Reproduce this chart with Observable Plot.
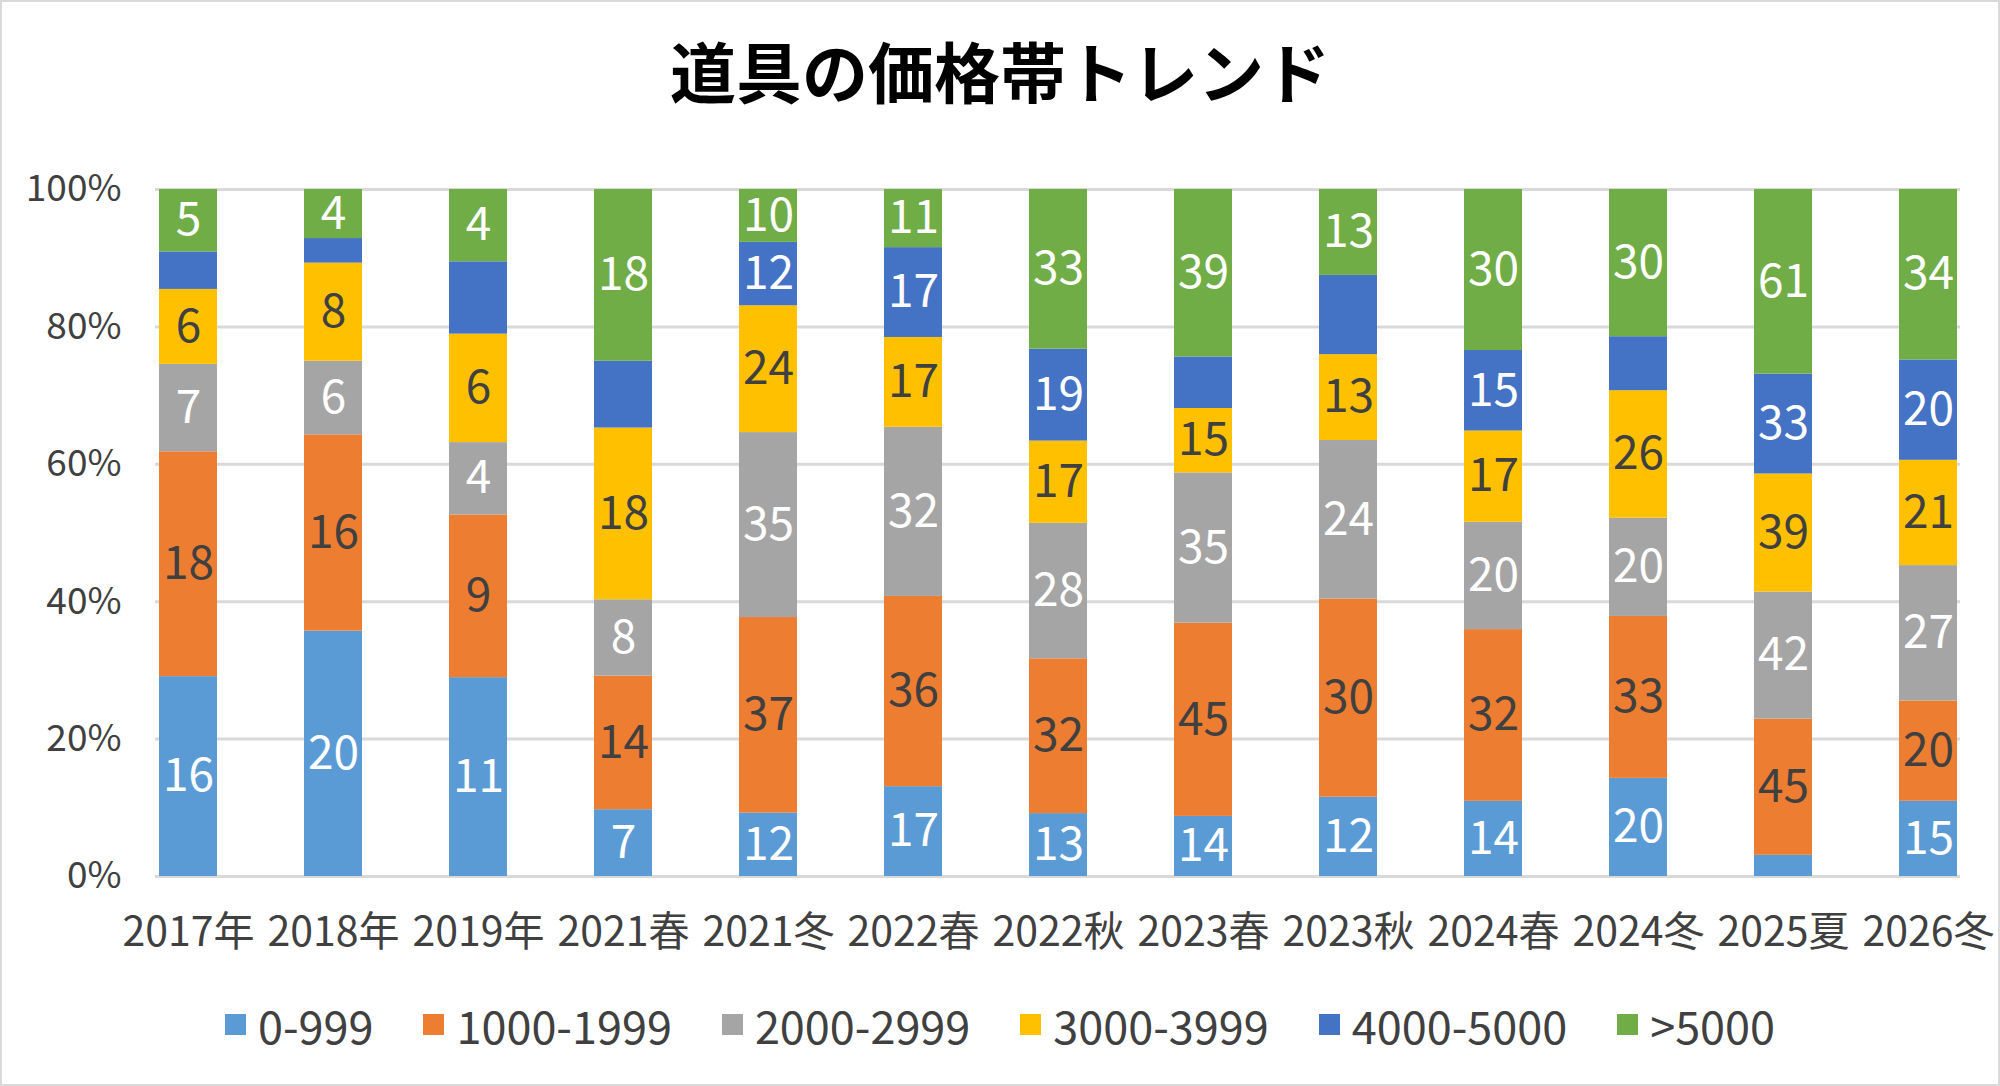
<!DOCTYPE html>
<html><head><meta charset="utf-8">
<script src="https://cdn.jsdelivr.net/npm/d3@7"></script>
<script src="https://cdn.jsdelivr.net/npm/@observablehq/plot@0.6"></script>
<style>
body{margin:0;background:#fff;font-family:"Noto Sans CJK JP","Noto Sans",sans-serif;}
#wrap{width:1996px;height:1082px;border:2px solid #d9d9d9;position:relative;overflow:hidden;}
#title{position:absolute;top:28px;left:0;width:100%;text-align:center;font-size:66px;font-weight:bold;color:#000;line-height:1.2;}
#chart{position:absolute;top:128px;left:0;}
#legend{position:absolute;top:990px;left:0;width:100%;display:flex;justify-content:center;gap:50px;font-size:45px;color:#404040;}
#legend span.sw{display:inline-block;width:21px;height:21px;margin-right:12px;}
#legend div{display:flex;align-items:center;}
</style></head><body>
<div id="wrap"><div id="title">道具の価格帯トレンド</div><div id="chart"></div><div id="legend"></div></div>
<script>
const categories = ["2017年","2018年","2019年","2021春","2021冬","2022春","2022秋","2023春","2023秋","2024春","2024冬","2025夏","2026冬"];
const seriesNames = ["0-999","1000-1999","2000-2999","3000-3999","4000-5000",">5000"];
const colors = ["#5B9BD5","#ED7D31","#A5A5A5","#FFC000","#4472C4","#70AD47"];
const textColors = ["#fff","#404040","#fff","#404040","#fff","#fff"];
const v0 = [16,20,11,7,12,17,13,14,12,14,20,7,15];
const v1 = [18,16,9,14,37,36,32,45,30,32,33,45,20];
const v2 = [7,6,4,8,35,32,28,35,24,20,20,42,27];
const v3 = [6,8,6,18,24,17,17,15,13,17,26,39,21];
const v4 = [3,2,4,7,12,17,19,12,12,15,11,33,20];
const v5 = [5,4,4,18,10,11,33,39,13,30,30,61,34];
const unlabeled = ["2017年|4000-5000","2018年|4000-5000","2019年|4000-5000","2021春|4000-5000","2023春|4000-5000","2023秋|4000-5000","2024冬|4000-5000","2025夏|0-999"];
const vals = [v0,v1,v2,v3,v4,v5];
const data = [];
categories.forEach((c,i)=>seriesNames.forEach((s,j)=>data.push({cat:c,series:s,value:vals[j][i],
  label: unlabeled.includes(c+"|"+s) ? "" : String(vals[j][i]), tc:textColors[j]})));
const stackOpts = {x:"cat", y:"value", z:"series", offset:"normalize", order:seriesNames};
const plot = Plot.plot({
  width:1996, height:834, marginTop:59, marginBottom:88, marginLeft:153, marginRight:38,
  style:{fontFamily:"'Noto Sans CJK JP','Noto Sans',sans-serif", fontSize:"41px", color:"#404040", background:"transparent", overflow:"visible"},
  x:{domain:categories, paddingInner:0.6, paddingOuter:0, label:null, tickSize:0, tickPadding:40},
  y:{domain:[0,1], ticks:[0,.2,.4,.6,.8,1], tickFormat:d3.format(".0%"), label:null, tickSize:0, tickPadding:34},
  color:{domain:seriesNames, range:colors},
  marks:[
    Plot.ruleY([0,.2,.4,.6,.8,1],{stroke:"#d9d9d9", strokeWidth:3}),
    Plot.axisY({ticks:[0,.2,.4,.6,.8,1], tickFormat:d3.format(".0%"), tickSize:0, tickPadding:34, fontSize:37, label:null}),
    Plot.barY(data, Plot.stackY({...stackOpts, fill:"series"})),
    Plot.text(data, Plot.stackY({...stackOpts, text:"label", fill:"tc", fontSize:46}))
  ]
});
document.getElementById("chart").appendChild(plot);
const lg = document.getElementById("legend");
seriesNames.forEach((s,j)=>{const d=document.createElement("div");d.innerHTML=`<span class="sw" style="background:${colors[j]}"></span>${s}`;lg.appendChild(d);});
</script></body></html>
